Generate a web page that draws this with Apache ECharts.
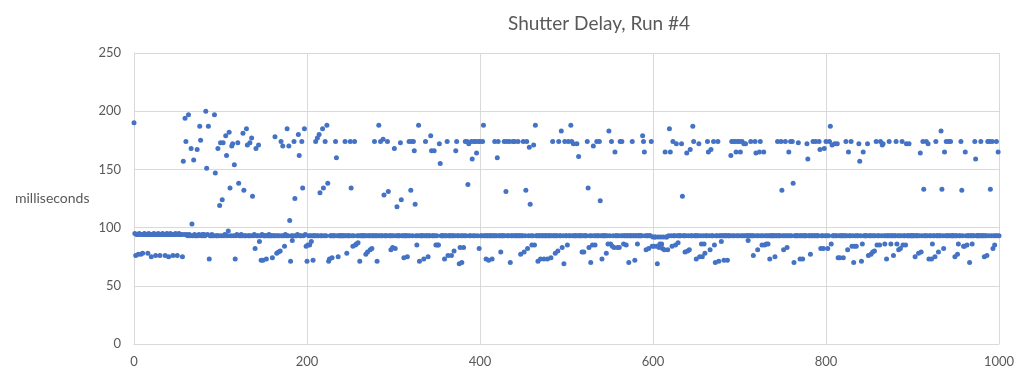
<!DOCTYPE html>
<html>
<head>
<meta charset="utf-8">
<script src="https://cdn.jsdelivr.net/npm/echarts@6/dist/echarts.min.js"></script>
<style>
html,body{margin:0;padding:0;background:#fff;}
#chart{width:1024px;height:375px;}
</style>
</head>
<body>
<div id="chart"></div>
<script>
var chartTitle = "Shutter Delay, Run #4";
var yAxisTitle = "milliseconds";
var xTicks = [0, 200, 400, 600, 800, 1000];
var yTicks = [0, 50, 100, 150, 200, 250];
// shutter delay (ms) for samples 0..1000
var delayMs = [
190,95,76,94,94,77,95,94,77,94,78,94,95,94,94,94,78,95,94,94,
75,94,94,95,94,76,94,94,95,94,76,94,94,95,94,94,76,94,95,94,
75,94,95,94,94,76,94,94,95,94,76,94,95,94,94,94,75,157,94,194,
174,94,93,197,94,93,168,103,93,158,94,93,93,167,93,94,187,175,93,94,
93,94,93,200,151,94,187,73,93,93,94,93,93,197,147,93,93,168,93,119,
173,93,124,173,93,94,179,162,93,97,182,134,93,170,172,93,154,73,93,94,
173,138,93,93,94,93,181,132,93,93,185,171,93,93,173,93,177,127,93,94,
82,168,93,93,171,88,93,72,94,72,93,93,93,73,93,93,94,93,93,93,
74,93,93,178,93,78,93,79,93,80,174,93,170,93,84,94,93,185,93,170,
106,71,93,89,93,174,125,93,93,94,180,162,93,93,174,134,93,185,94,84,
71,85,93,85,93,88,93,72,93,93,174,93,177,93,180,130,93,93,185,134,
93,174,93,188,138,71,73,93,93,74,93,93,93,174,160,93,75,93,93,93,
93,93,93,93,174,93,78,93,93,93,174,134,93,84,93,174,85,86,93,87,
93,71,93,93,93,93,93,93,77,93,79,93,93,81,93,82,93,93,174,93,
93,71,93,188,93,174,93,93,176,128,93,93,93,174,131,93,93,81,93,83,
93,168,82,93,118,93,93,93,173,124,93,93,74,93,93,93,75,93,174,93,
132,174,93,174,166,120,93,85,93,188,71,93,93,93,93,73,93,174,93,93,
75,93,93,179,166,93,93,166,93,85,93,85,85,172,155,93,93,93,93,73,
93,93,174,76,93,93,93,76,93,93,80,93,166,174,93,93,69,83,93,70,
93,83,93,174,93,174,137,172,93,93,174,159,93,174,93,174,164,93,174,82,
174,93,93,174,188,93,93,73,93,93,72,93,93,93,73,93,93,174,93,93,
160,174,93,93,79,93,93,93,174,93,131,174,93,93,174,70,93,93,174,93,
174,93,93,93,174,93,93,77,93,93,174,79,93,132,174,82,93,169,120,93,
85,93,171,85,188,93,93,71,93,93,73,93,93,93,73,93,93,93,73,93,
93,93,74,93,174,93,93,78,93,93,80,174,93,93,183,83,93,69,174,93,
93,85,174,93,93,188,174,93,172,93,93,93,172,93,161,93,93,93,79,93,
79,93,93,93,174,134,83,93,70,93,85,170,93,85,93,174,93,93,174,123,
93,73,93,93,93,93,78,93,86,183,93,86,174,84,93,83,165,93,93,83,
93,83,174,93,174,93,86,93,93,85,93,93,70,93,93,93,174,93,93,72,
93,93,86,93,93,93,93,93,179,174,165,93,81,93,93,82,93,93,174,84,
92,84,92,92,84,69,92,83,86,92,86,82,92,81,165,92,92,81,93,185,
165,93,84,174,93,93,85,172,93,87,93,93,93,172,127,93,93,79,93,164,
80,93,81,167,93,93,187,174,93,93,73,93,93,172,75,93,86,75,93,86,
78,93,93,174,165,93,81,167,93,93,174,85,70,93,93,174,71,93,93,88,
93,93,72,93,93,93,72,93,93,93,162,174,93,174,93,174,165,93,174,93,
174,165,93,174,93,172,93,172,93,93,89,93,93,174,93,93,76,93,174,164,
93,81,93,165,174,93,85,93,165,85,93,86,93,86,93,73,93,93,93,93,
93,75,93,93,174,93,93,93,174,132,93,81,93,174,93,83,93,165,93,174,
93,174,138,70,93,93,93,93,173,93,73,93,93,73,93,93,93,93,172,159,
93,93,77,93,93,174,93,93,174,93,93,93,174,167,82,93,93,82,168,93,
174,93,82,93,174,187,86,171,93,93,172,93,93,172,74,93,74,93,93,93,
74,93,93,174,93,81,165,93,93,174,84,93,70,84,93,84,93,93,172,157,
93,71,86,165,93,93,93,93,172,76,93,93,77,93,79,93,80,93,174,85,
93,93,85,174,93,171,172,93,86,93,73,93,93,174,93,86,93,93,76,93,
93,174,86,93,81,93,82,93,174,85,93,93,85,172,93,93,172,93,93,93,
93,93,93,75,93,93,93,78,93,164,79,93,174,133,93,93,174,93,172,73,
93,93,73,86,93,93,75,174,93,93,79,93,93,183,133,93,82,165,93,174,
93,93,174,93,174,93,93,93,93,75,93,93,77,86,93,93,174,132,93,84,
84,165,93,85,93,93,70,93,93,86,93,93,174,159,93,93,93,93,93,174,
93,93,93,75,93,93,76,174,93,174,133,93,174,82,93,85,93,174,93,165,
93
];

var points = delayMs.map(function (v, i) { return [i, v]; });
var FONT = "Lato, 'Liberation Sans', sans-serif";
var chart = echarts.init(document.getElementById('chart'), null, {renderer: 'canvas'});
chart.setOption({
  animation: false,
  backgroundColor: '#ffffff',
  title: {
    text: chartTitle,
    left: 503, top: 9,
    textStyle: {fontFamily: FONT, fontSize: 19, fontWeight: 'normal', color: '#595959'}
  },
  graphic: [{
    type: 'text', left: 15, top: 191,
    style: {text: yAxisTitle, font: "14px " + FONT, fill: '#595959'}
  }],
  grid: {left: 134, right: 25, top: 53, bottom: 31, containLabel: false},
  xAxis: {
    type: 'value', min: xTicks[0], max: xTicks[xTicks.length - 1], interval: 200,
    axisLine: {show: true, lineStyle: {color: '#d9d9d9', width: 1}},
    axisTick: {show: false},
    axisLabel: {color: '#595959', fontSize: 13, fontFamily: FONT, margin: 11,
      formatter: function (v) { return String(v); }},
    splitLine: {show: true, lineStyle: {color: '#d9d9d9', width: 1}}
  },
  yAxis: {
    type: 'value', min: yTicks[0], max: yTicks[yTicks.length - 1], interval: 50,
    axisLine: {show: true, lineStyle: {color: '#d9d9d9', width: 1}},
    axisTick: {show: false},
    axisLabel: {color: '#595959', fontSize: 13, fontFamily: FONT, margin: 13,
      formatter: function (v) { return String(v); }},
    splitLine: {show: true, lineStyle: {color: '#d9d9d9', width: 1}}
  },
  series: [{
    type: 'scatter',
    data: points,
    symbol: 'circle',
    symbolSize: 5,
    itemStyle: {color: '#4472C4', opacity: 1},
    emphasis: {disabled: true}
  }]
});
</script>
</body>
</html>
